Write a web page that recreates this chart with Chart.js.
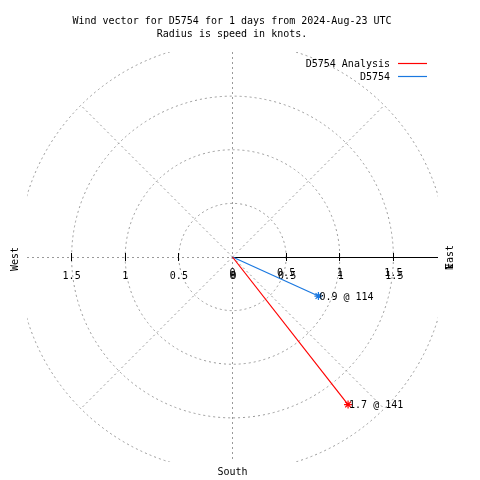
<!DOCTYPE html>
<html>
<head>
<meta charset="utf-8">
<script src="https://cdn.jsdelivr.net/npm/chart.js@4/dist/chart.umd.min.js"></script>
<style>
  body { margin: 0; background: #fff; }
  canvas { display: block; }
</style>
</head>
<body>
<canvas id="grafica" width="480" height="480"></canvas>
<script>
const seriesNames = ['D5754 Analysis', 'D5754']
const speeds = [1.75, 0.88]
const directions = [142, 114.5]
const vectorLabels = ['1.7 @ 141', '0.9 @ 114']
const colores = ['#ff0000', '#1a78e0']

const rings = [0.5, 1, 1.5, 2]
const tickValues = [0, 0.5, 1, 1.5]
const tickLabels = ['0', '0.5', '1', '1.5']

const titleLines = ['Wind vector for D5754 for 1 days from 2024-Aug-23 UTC', 'Radius is speed in knots.']
const fuente = '10px "DejaVu Sans Mono"'
const gris = '#999999'

// speed/direction -> x,y (direction clockwise from north)
function toXY(speed, dir) {
    const a = dir * Math.PI / 180
    return { x: speed * Math.sin(a), y: speed * Math.cos(a) }
}

const datasets = seriesNames.map((name, i) => ({
    label: name,
    data: [{ x: 0, y: 0 }, toXY(speeds[i], directions[i])],
    showLine: true,
    borderColor: colores[i],
    borderWidth: 1.2,
    pointStyle: 'star',
    pointRadius: [0, 4],
    pointBorderColor: colores[i],
    pointBorderWidth: 1.2,
    pointBackgroundColor: colores[i]
}))

const polarGrid = {
    id: 'polarGrid',
    beforeDatasetsDraw(chart) {
        const ctx = chart.ctx
        const xs = chart.scales.x
        const ys = chart.scales.y
        const area = chart.chartArea
        const cx = xs.getPixelForValue(0)
        const cy = ys.getPixelForValue(0)
        const unit = xs.getPixelForValue(1) - cx
        const vx = Math.floor(cx) + 0.5

        ctx.save()
        ctx.beginPath()
        ctx.rect(area.left, area.top, area.right - area.left, area.bottom - area.top)
        ctx.clip()
        ctx.strokeStyle = gris
        ctx.lineWidth = 1
        ctx.setLineDash([2, 3])
        rings.forEach(r => {
            ctx.beginPath()
            ctx.arc(cx, cy, r * unit, 0, Math.PI * 2)
            ctx.stroke()
        })
        const rMax = rings[rings.length - 1] * unit
        ;[45, 135, 225, 315].forEach(d => {
            const a = d * Math.PI / 180
            ctx.beginPath()
            ctx.moveTo(cx, cy)
            ctx.lineTo(cx + rMax * Math.sin(a), cy - rMax * Math.cos(a))
            ctx.stroke()
        })
        ctx.beginPath()
        ctx.moveTo(vx, area.top)
        ctx.lineTo(vx, area.bottom)
        ctx.moveTo(area.left, cy + 0.5)
        ctx.lineTo(cx, cy + 0.5)
        ctx.stroke()
        ctx.restore()

        // east axis solid
        ctx.save()
        ctx.strokeStyle = '#000'
        ctx.lineWidth = 1
        ctx.beginPath()
        ctx.moveTo(cx, cy + 0.5)
        ctx.lineTo(area.right, cy + 0.5)
        ctx.stroke()
        tickValues.forEach(v => {
            if (v === 0) return
            ;[cx + v * unit, cx - v * unit].forEach(px => {
                ctx.beginPath()
                ctx.moveTo(Math.floor(px) + 0.5, cy - 4)
                ctx.lineTo(Math.floor(px) + 0.5, cy + 4)
                ctx.stroke()
            })
        })

        ctx.fillStyle = '#000'
        ctx.font = fuente
        ctx.textAlign = 'center'
        ctx.textBaseline = 'alphabetic'
        tickValues.forEach((v, i) => {
            ctx.fillText(tickLabels[i], cx - v * unit, cy + 22)
            ctx.fillText(tickLabels[i], cx + v * unit, cy + 19)
            ctx.fillText(tickLabels[i], cx + v * unit + 1, cy + 22)
        })
        ctx.fillText('South', cx, 475)

        ctx.save()
        ctx.translate(18, cy + 2)
        ctx.rotate(-Math.PI / 2)
        ctx.fillText('West', 0, 0)
        ctx.restore()
        ctx.save()
        ctx.translate(453, cy)
        ctx.rotate(-Math.PI / 2)
        ctx.fillText('East', 0, 0)
        ctx.fillText('N', -10, 0)
        ctx.restore()
        ctx.restore()
    },
    afterDatasetsDraw(chart) {
        const ctx = chart.ctx
        const xs = chart.scales.x
        const ys = chart.scales.y
        ctx.save()
        ctx.font = fuente
        ctx.fillStyle = '#000'

        // vector labels
        ctx.textAlign = 'left'
        ctx.textBaseline = 'middle'
        seriesNames.forEach((n, i) => {
            const p = toXY(speeds[i], directions[i])
            ctx.fillText(vectorLabels[i], xs.getPixelForValue(p.x) + 1, ys.getPixelForValue(p.y) + 1)
        })

        // title
        ctx.textAlign = 'center'
        ctx.textBaseline = 'alphabetic'
        ctx.fillText(titleLines[0], 232, 24)
        ctx.fillText(titleLines[1], 232, 37)

        // legend
        seriesNames.forEach((n, i) => {
            const y = 63 + i * 12.5
            ctx.textAlign = 'right'
            ctx.fillStyle = '#000'
            ctx.fillText(n, 390, y + 4)
            ctx.strokeStyle = colores[i]
            ctx.lineWidth = 1.2
            ctx.beginPath()
            ctx.moveTo(398, Math.round(y) + 0.5)
            ctx.lineTo(427, Math.round(y) + 0.5)
            ctx.stroke()
        })
        ctx.restore()
    }
}

new Chart(document.getElementById('grafica'), {
    type: 'scatter',
    data: { datasets: datasets },
    options: {
        responsive: false,
        animation: false,
        layout: { padding: { left: 27, right: 42, top: 52, bottom: 18 } },
        scales: {
            x: { display: false, min: -1.916, max: 1.916 },
            y: { display: false, min: -1.916, max: 1.916 }
        },
        plugins: {
            legend: { display: false },
            tooltip: { enabled: false }
        }
    },
    plugins: [polarGrid]
})
</script>
</body>
</html>
